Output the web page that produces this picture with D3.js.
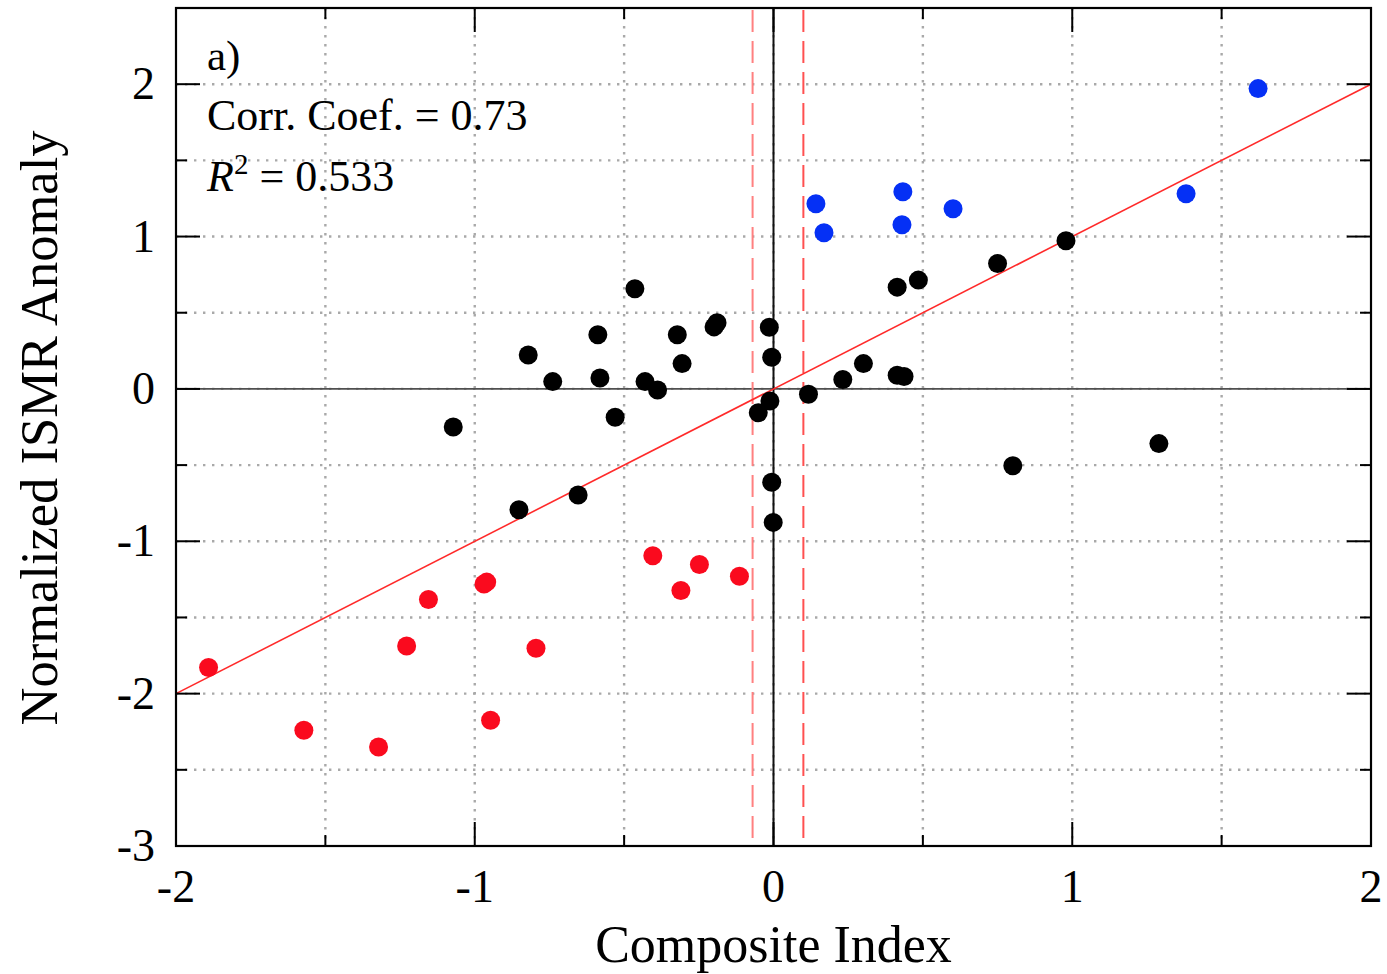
<!DOCTYPE html>
<html><head><meta charset="utf-8">
<script src="https://cdn.jsdelivr.net/npm/d3@7"></script>
<style>body{margin:0;background:#fff}svg{display:block}</style>
</head><body>
<svg id="c" width="1387" height="974"></svg>
<script>
// ---- data ----
const xTicks = [-2, -1, 0, 1, 2];
const yTicks = [-3, -2, -1, 0, 1, 2];
const xMinor = [-1.5, -0.5, 0.5, 1.5];
const yMinor = [-2.5, -1.5, -0.5, 0.5, 1.5];
const thresholds = [-0.07, 0.10];
const fitLine = [[-2, -2], [2, 2]];

const blueX = [1.622, 1.381, 0.433, 0.430, 0.601, 0.142, 0.169];
const blueY = [1.971, 1.281, 1.294, 1.078, 1.183, 1.215, 1.025];

const blackX = [-0.464, -0.199, -0.189, -0.014, -0.588, -0.322, -0.821, -0.006, -0.306, -0.739, -0.581, -0.430, -0.388, 0.117, 0.232, -0.012, -0.051, -0.530, -1.072, -0.654, -0.852, -0.006, -0.001, 0.301, 0.414, 0.437, 0.414, 0.485, 0.750, 0.979, 0.801, 1.290];
const blackY = [0.657, 0.407, 0.434, 0.405, 0.355, 0.355, 0.223, 0.208, 0.166, 0.048, 0.072, 0.048, -0.007, -0.035, 0.062, -0.079, -0.156, -0.186, -0.250, -0.696, -0.793, -0.613, -0.876, 0.166, 0.090, 0.081, 0.668, 0.714, 0.823, 0.972, -0.504, -0.359];

const redX = [-1.891, -1.572, -1.322, -1.228, -1.155, -0.969, -0.960, -0.795, -0.947, -0.404, -0.248, -0.310, -0.114];
const redY = [-1.829, -2.240, -2.350, -1.687, -1.382, -1.281, -1.268, -1.702, -2.175, -1.095, -1.152, -1.323, -1.229];

const texts = ["a)", "Corr. Coef. = 0.73", "0.533"];
const xTitle = "Composite Index";
const yTitle = "Normalized ISMR Anomaly";

// ---- drawing ----
const L = 176, R = 1371, T = 8, B = 846;
const x = d3.scaleLinear().domain([-2, 2]).range([L, R]);
const y = d3.scaleLinear().domain([-3, 2.5]).range([B, T]);
const svg = d3.select("#c");
const font = "'Liberation Serif', 'Times New Roman', serif";

// grid
const gridX = d3.range(-1.5, 2, 0.5);
const gridY = d3.range(-2.5, 2.5, 0.5);
svg.append("g").selectAll("line").data(gridX).join("line")
  .attr("x1", d => x(d)).attr("x2", d => x(d)).attr("y1", T).attr("y2", B)
  .attr("stroke", "#a9a9a9").attr("stroke-width", 2.4).attr("stroke-dasharray", "2.4,6.6");
svg.append("g").selectAll("line").data(gridY).join("line")
  .attr("x1", L).attr("x2", R).attr("y1", d => y(d)).attr("y2", d => y(d))
  .attr("stroke", "#a9a9a9").attr("stroke-width", 2.4).attr("stroke-dasharray", "2.4,6.6");

// zero lines
svg.append("line").attr("x1", L).attr("x2", R).attr("y1", y(0)).attr("y2", y(0))
  .attr("stroke", "#505050").attr("stroke-width", 1.8);
svg.append("line").attr("x1", x(0)).attr("x2", x(0)).attr("y1", T).attr("y2", B)
  .attr("stroke", "#111").attr("stroke-width", 2);

// threshold dashed lines
svg.append("g").selectAll("line").data(thresholds).join("line")
  .attr("x1", d => x(d)).attr("x2", d => x(d)).attr("y1", T + 2).attr("y2", B)
  .attr("stroke", (d, i) => i === 0 ? "#ff8080" : "#ff5050").attr("stroke-width", 2)
  .attr("stroke-dasharray", "22,9");

// fit line
svg.append("path").attr("d", d3.line().x(d => x(d[0])).y(d => y(d[1]))(fitLine))
  .attr("stroke", "#ff2a2a").attr("stroke-width", 1.6).attr("fill", "none");

// points
function pts(xs, ys, col) {
  svg.append("g").selectAll("circle").data(xs.map((v, i) => [v, ys[i]])).join("circle")
    .attr("cx", d => x(d[0])).attr("cy", d => y(d[1])).attr("r", 9.5).attr("fill", col);
}
pts(blackX, blackY, "#000");
pts(blueX, blueY, "#0530f5");
pts(redX, redY, "#fa0a1e");

// frame
svg.append("rect").attr("x", L).attr("y", T).attr("width", R - L).attr("height", B - T)
  .attr("fill", "none").attr("stroke", "#000").attr("stroke-width", 2.2);

// ticks
const tk = svg.append("g").attr("stroke", "#000").attr("stroke-width", 2);
function xt(vals, len) {
  vals.forEach(v => {
    tk.append("line").attr("x1", x(v)).attr("x2", x(v)).attr("y1", B).attr("y2", B - len);
    tk.append("line").attr("x1", x(v)).attr("x2", x(v)).attr("y1", T).attr("y2", T + len);
  });
}
function yt(vals, len) {
  vals.forEach(v => {
    tk.append("line").attr("y1", y(v)).attr("y2", y(v)).attr("x1", L).attr("x2", L + len);
    tk.append("line").attr("y1", y(v)).attr("y2", y(v)).attr("x1", R).attr("x2", R - len);
  });
}
xt(xTicks.slice(1, -1), 24); xt(xMinor, 11);
yt(yTicks.slice(1), 24); yt(yMinor, 11);

// tick labels
svg.append("g").selectAll("text").data(xTicks).join("text")
  .attr("x", d => x(d)).attr("y", 902).attr("text-anchor", "middle")
  .attr("font-family", font).attr("font-size", 46).text(d => d);
svg.append("g").selectAll("text").data(yTicks).join("text")
  .attr("x", 155).attr("y", d => y(d) + 15).attr("text-anchor", "end")
  .attr("font-family", font).attr("font-size", 46).text(d => d);

// titles
svg.append("text").attr("x", x(0)).attr("y", 962).attr("text-anchor", "middle")
  .attr("font-family", font).attr("font-size", 52).text(xTitle);
svg.append("text").attr("transform", "translate(57,428) rotate(-90)").attr("text-anchor", "middle")
  .attr("font-family", font).attr("font-size", 52.5).text(yTitle);

// annotations
svg.append("text").attr("x", 207).attr("y", 70).attr("font-family", font).attr("font-size", 43).text(texts[0]);
svg.append("text").attr("x", 207).attr("y", 130).attr("font-family", font).attr("font-size", 44).text(texts[1]);
const r2 = svg.append("text").attr("x", 207).attr("y", 191).attr("font-family", font).attr("font-size", 44);
r2.append("tspan").attr("font-style", "italic").text("R");
r2.append("tspan").attr("dy", -17).attr("font-size", 29).text("2");
r2.append("tspan").attr("dy", 17).text(" = " + texts[2]);
</script>
</body></html>
